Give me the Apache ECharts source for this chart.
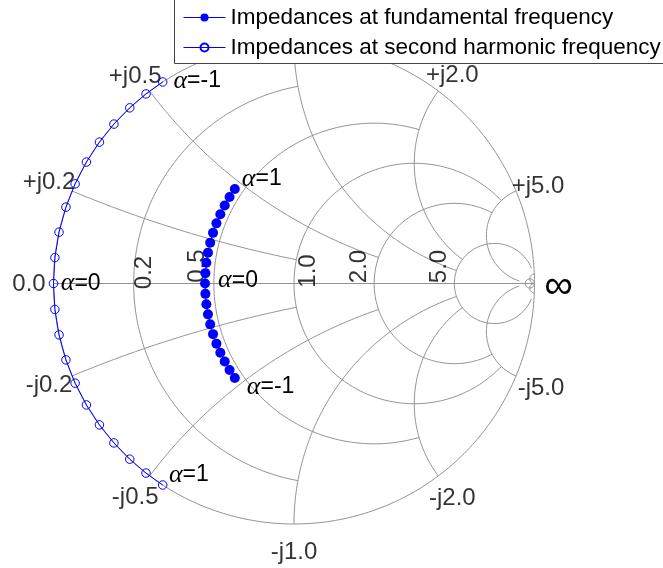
<!DOCTYPE html>
<html>
<head>
<meta charset="utf-8">
<script src="https://cdn.jsdelivr.net/npm/echarts@6/dist/echarts.min.js"></script>
<style>
html, body { margin: 0; padding: 0; background: #fff; }
#chart { width: 663px; height: 568px; }
</style>
</head>
<body>
<div id="chart"></div>
<script>
// Load-line sweep, impedances normalised to Z0
const alphaValues  = [-1.0, -0.9, -0.8, -0.7, -0.6, -0.5, -0.4, -0.3, -0.2, -0.1, 0.0, 0.1, 0.2, 0.3, 0.4, 0.5, 0.6, 0.7, 0.8, 0.9, 1.0];
const fundamentalR = [0.46, 0.46, 0.46, 0.46, 0.46, 0.46, 0.46, 0.46, 0.46, 0.46, 0.46, 0.46, 0.46, 0.46, 0.46, 0.46, 0.46, 0.46, 0.46, 0.46, 0.46];
const fundamentalX = [-0.460, -0.414, -0.368, -0.322, -0.276, -0.230, -0.184, -0.138, -0.092, -0.046, 0.000, 0.046, 0.092, 0.138, 0.184, 0.230, 0.276, 0.322, 0.368, 0.414, 0.460];
const harmonicR    = [0, 0, 0, 0, 0, 0, 0, 0, 0, 0, 0, 0, 0, 0, 0, 0, 0, 0, 0, 0, 0];
const harmonicX    = [0.542, 0.488, 0.434, 0.379, 0.325, 0.271, 0.217, 0.163, 0.108, 0.054, 0.000, -0.054, -0.108, -0.163, -0.217, -0.271, -0.325, -0.379, -0.434, -0.488, -0.542];
const labelledAlpha = [-1.0, 0.0, 1.0];

// Smith grid: each value is drawn up to its limit on the other family of curves
const gridValues = [0.2, 0.5, 1.0, 2.0, 5.0, 50];
const gridLimits = [1.0, 2.0, 5.0, 5.0, 30, Infinity];

// Tick labels
const resistanceTicks  = [0.2, 0.5, 1.0, 2.0, 5.0];
const resistanceLabels = ['0.2', '0.5', '1.0', '2.0', '5.0'];
const reactanceTicks   = [0.0, 0.2, 0.5, 1.0, 2.0, 5.0, -0.2, -0.5, -1.0, -2.0, -5.0];
const reactanceLabels  = ['0.0', '+j0.2', '+j0.5', '+j1.0', '+j2.0', '+j5.0', '-j0.2', '-j0.5', '-j1.0', '-j2.0', '-j5.0'];
const infinityLabel = '\u221E';
const seriesNames = ['Impedances at fundamental frequency', 'Impedances at second harmonic frequency'];

// ---- layout (screen-space pixel offsets of the text centre from its anchor) ----
const reactanceLabelOffset = {
  '0.0': [-24.5, 0.5], '+j0.2': [-23, -9], '+j0.5': [-14.5, -14.5], '+j1.0': [0, -25],
  '+j2.0': [14, -16], '+j5.0': [22, -5], '-j0.2': [-23, 9], '-j0.5': [-14.5, 21.5],
  '-j1.0': [0, 28.5], '-j2.0': [14, 22.5], '-j5.0': [25, 12]
};
const resistanceLabelOffset = {
  '0.2': [10.5, -11], '0.5': [-16, -17.5], '1.0': [14.5, -12.5], '2.0': [-15, -17], '5.0': [-14.5, -17]
};
const infinityOffset = [24, 3];
const fundAlphaOffset = { '-1': [2, 9], '0': [3, -3], '1': [-3, -10] };
const harmAlphaOffset = { '-1': [1, -1], '0': [-2.5, 0], '1': [-3.5, -10] };

const FONT = 'Liberation Sans, Arial, sans-serif';
const GRID_COLOR = '#939393';
const BLUE = '#0000ff';

// reflection coefficient of a normalised impedance r + jx
function gamma(r, x) {
  const den = (r + 1) * (r + 1) + x * x;
  return [(r * r + x * x - 1) / den, (2 * x) / den];
}

// constant-resistance circle, limited to |x| <= xmax
function resistanceCircle(r, xmax) {
  const c = r / (1 + r), rho = 1 / (1 + r);
  let t0 = 0;
  if (isFinite(xmax)) {
    const g = gamma(r, xmax);
    t0 = Math.atan2(g[1], g[0] - c);
  }
  const pts = [], n = 360;
  for (let i = 0; i <= n; i++) {
    const t = t0 + (2 * Math.PI - 2 * t0) * i / n;
    pts.push([c + rho * Math.cos(t), rho * Math.sin(t)]);
  }
  return pts;
}

// constant-reactance arc, from the rim (r = 0) up to r = rmax
function reactanceArc(x, rmax) {
  const cy = 1 / x, rho = 1 / Math.abs(x);
  const g0 = gamma(0, x);
  const g1 = isFinite(rmax) ? gamma(rmax, x) : [1, 0];
  const a0 = Math.atan2(g0[1] - cy, g0[0] - 1);
  const a1 = Math.atan2(g1[1] - cy, g1[0] - 1);
  let d = a1 - a0;
  while (d > Math.PI) d -= 2 * Math.PI;
  while (d < -Math.PI) d += 2 * Math.PI;
  const pts = [], n = 200;
  for (let i = 0; i <= n; i++) {
    const a = a0 + d * i / n;
    pts.push([1 + rho * Math.cos(a), cy + rho * Math.sin(a)]);
  }
  return pts;
}

function gridSeries(points) {
  return {
    type: 'line', data: points, showSymbol: false, symbol: 'none', silent: true,
    clip: false, z: 1, animation: false,
    lineStyle: { color: GRID_COLOR, width: 1 }
  };
}

const series = [];
// rim and real axis
series.push(gridSeries(resistanceCircle(0, Infinity)));
series.push(gridSeries([[-1, 0], [1, 0]]));
gridValues.forEach((v, i) => {
  series.push(gridSeries(resistanceCircle(v, gridLimits[i])));
  series.push(gridSeries(reactanceArc(v, gridLimits[i])));
  series.push(gridSeries(reactanceArc(-v, gridLimits[i])));
});

function alphaLabel(alpha, offset) {
  const key = String(alpha);
  return {
    show: true, position: 'right', distance: 5, offset: offset[key],
    formatter: '{a|\u03B1}{b|=' + key + '}',
    rich: {
      a: { fontFamily: 'Liberation Serif, Times New Roman, serif', fontStyle: 'italic', fontSize: 26, color: '#000' },
      b: { fontFamily: FONT, fontSize: 23, color: '#000' }
    }
  };
}

const fundData = alphaValues.map((a, i) => {
  const item = { value: gamma(fundamentalR[i], fundamentalX[i]) };
  if (labelledAlpha.includes(a)) item.label = alphaLabel(a, fundAlphaOffset);
  return item;
});
const harmData = alphaValues.map((a, i) => {
  const item = { value: gamma(harmonicR[i], harmonicX[i]) };
  if (labelledAlpha.includes(a)) item.label = alphaLabel(a, harmAlphaOffset);
  return item;
});

series.push({
  name: seriesNames[0], type: 'line', data: fundData, clip: false, z: 5,
  symbol: 'circle', symbolSize: 10, showAllSymbol: true,
  lineStyle: { color: BLUE, width: 1 },
  itemStyle: { color: BLUE },
  label: { show: false }
});
series.push({
  name: seriesNames[1], type: 'line', data: harmData, clip: false, z: 5,
  symbol: 'circle', symbolSize: 8.5, showAllSymbol: true,
  lineStyle: { color: BLUE, width: 1 },
  itemStyle: { color: 'rgba(255,255,255,0)', borderColor: BLUE, borderWidth: 1 },
  label: { show: false }
});

const tickLabelStyle = { color: '#000', fontFamily: FONT, fontSize: 24, align: 'center', verticalAlign: 'middle' };
function tickSeries(data, extraLabel) {
  return {
    type: 'scatter', data: data, symbol: 'circle', symbolSize: 0.01, silent: true,
    clip: false, z: 4, itemStyle: { color: 'rgba(0,0,0,0)' },
    label: Object.assign({ show: true, position: 'inside' }, tickLabelStyle, extraLabel || {})
  };
}

// reactance values around the rim
series.push(tickSeries(reactanceTicks.map((x, i) => ({
  value: gamma(0, x),
  label: { formatter: reactanceLabels[i], offset: reactanceLabelOffset[reactanceLabels[i]] }
}))));

// resistance values along the real axis (vertical text; offsets apply in the rotated frame)
series.push(tickSeries(resistanceTicks.map((r, i) => {
  const o = resistanceLabelOffset[resistanceLabels[i]];
  return { value: gamma(r, 0), label: { formatter: resistanceLabels[i], offset: [-o[1], o[0]] } };
}), { rotate: 90 }));

const chart = echarts.init(document.getElementById('chart'), null, { renderer: 'canvas' });
chart.setOption({
  animation: false,
  backgroundColor: '#fff',
  grid: { left: 53.5, top: 43, width: 481, height: 481, containLabel: false },
  xAxis: { type: 'value', min: -1, max: 1, show: false },
  yAxis: { type: 'value', min: -1, max: 1, show: false },
  legend: {
    data: seriesNames, orient: 'vertical', left: 183, top: 6, padding: 0,
    itemGap: 7, itemWidth: 42, itemHeight: 10, selectedMode: false, z: 60,
    lineStyle: { width: 1 },
    textStyle: { fontFamily: FONT, fontSize: 22.5, lineHeight: 22.5, color: '#000' }
  },
  series: series
});

// open-circuit end of the real axis, and the legend frame
const inf = chart.convertToPixel({ gridIndex: 0 }, [1, 0]);
chart.setOption({
  graphic: [
    {
      type: 'rect', z: 50, silent: true,
      shape: { x: 174.5, y: -10, width: 600, height: 73.5 },
      style: { fill: '#fff', stroke: '#444', lineWidth: 1 }
    },
    {
      type: 'text', z: 10, silent: true, rotation: 0,
      x: inf[0] + infinityOffset[0], y: inf[1] + infinityOffset[1],
      style: { text: infinityLabel, fill: '#000', font: '40px "Liberation Sans"', align: 'center', verticalAlign: 'middle' }
    }
  ]
});
</script>
</body>
</html>
